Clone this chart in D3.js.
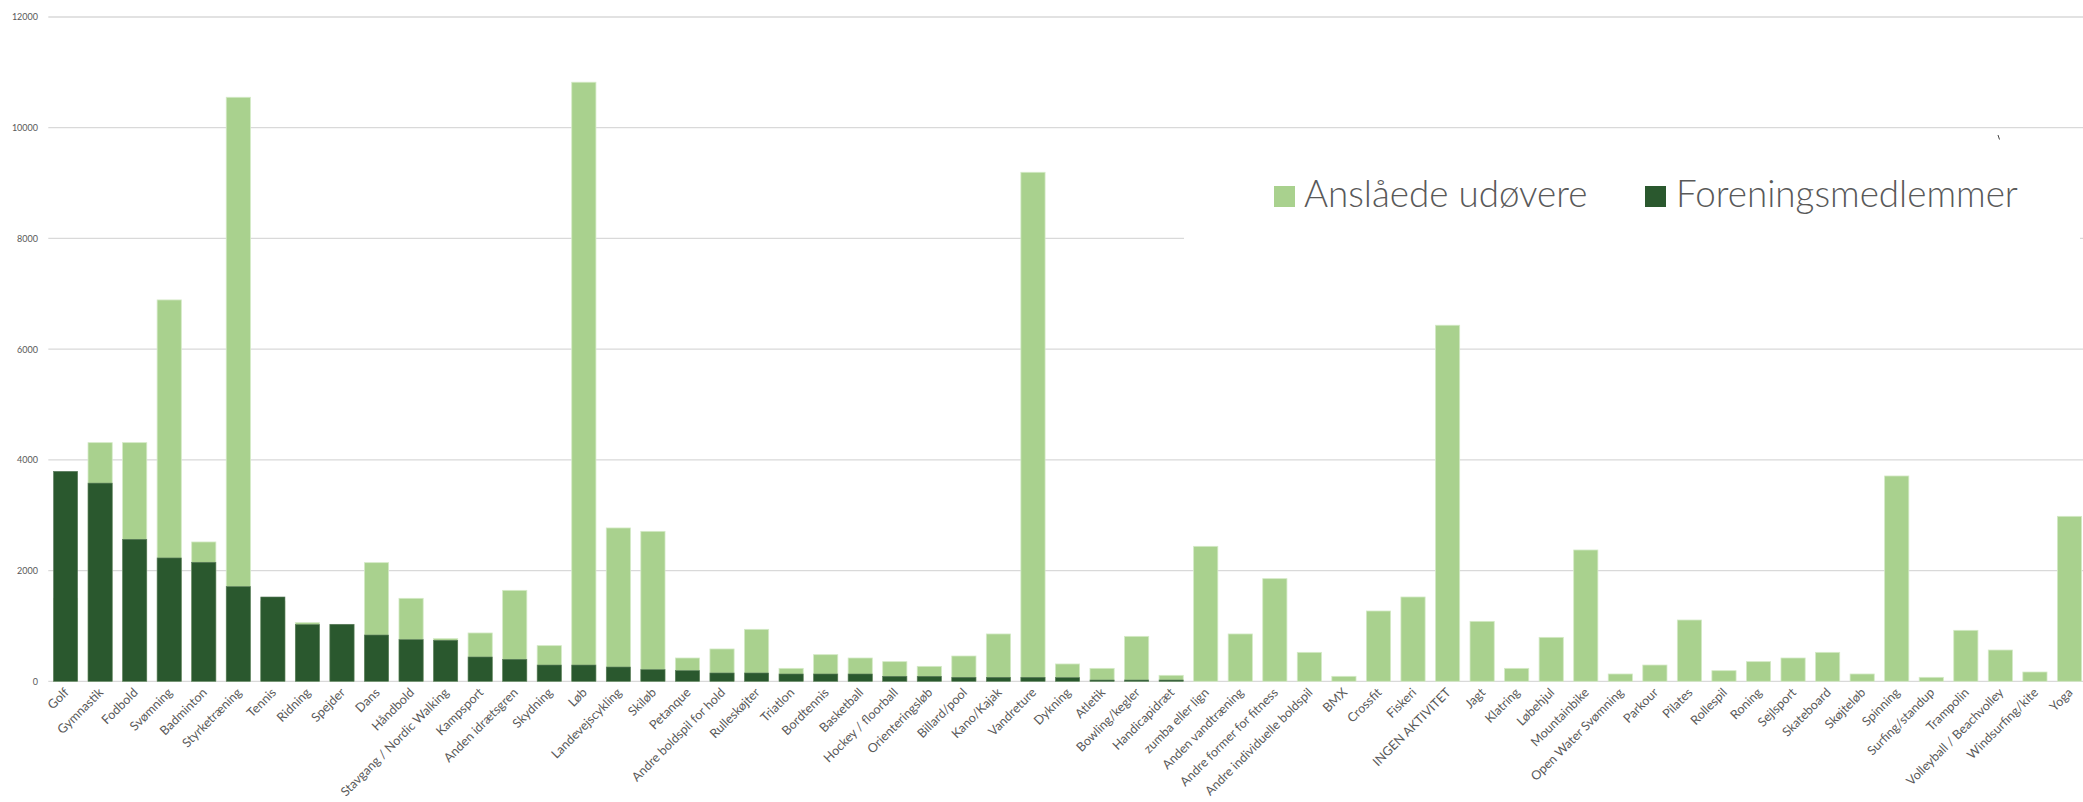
<!DOCTYPE html>
<html>
<head>
<meta charset="utf-8">
<script src="https://cdn.jsdelivr.net/npm/d3@7"></script>
<style>
  html, body { margin: 0; padding: 0; background: #fff; }
  svg { display: block; }
</style>
</head>
<body>
<svg id="chart" width="2083" height="802"></svg>
<script>
const categories = ["Golf","Gymnastik","Fodbold","Svømning","Badminton","Styrketræning","Tennis","Ridning","Spejder","Dans","Håndbold","Stavgang / Nordic Walking","Kampsport","Anden idrætsgren","Skydning","Løb","Landevejscykling","Skiløb","Petanque","Andre boldspil for hold","Rulleskøjter","Triatlon","Bordtennis","Basketball","Hockey / floorball","Orienteringsløb","Billard/pool","Kano/Kajak","Vandreture","Dykning","Atletik","Bowling/kegler","Handicapidræt","zumba eller lign","Anden vandtræning","Andre former for fitness","Andre individuelle boldspil","BMX","Crossfit","Fiskeri","INGEN AKTIVITET","Jagt","Klatring","Løbehjul","Mountainbike","Open Water Svømning","Parkour","Pilates","Rollespil","Roning","Sejlsport","Skateboard","Skøjteløb","Spinning","Surfing/standup","Trampolin","Volleyball / Beachvolley","Windsurfing/kite","Yoga"];

const anslaaedeUdoevere = [1500,4311,4311,6889,2517,10550,1450,1059,1020,2143,1499,770,873,1643,644,10822,2770,2709,421,584,939,234,481,421,355,270,457,855,9195,313,234,812,108,2438,855,1854,523,90,1270,1523,6432,1083,234,794,2372,132,294,1107,192,355,421,523,132,3709,72,921,565,168,2980];

const foreningsmedlemmer = [3793,3580,2565,2228,2150,1710,1523,1023,1030,836,752,740,439,397,294,294,258,210,192,150,150,132,132,132,90,90,72,72,72,66,23,23,23,0,0,0,0,0,0,0,0,0,0,0,0,0,0,0,0,0,0,0,0,0,0,0,0,0,0];

const yTicks = [0,2000,4000,6000,8000,10000,12000];
const seriesNames = ["Anslåede udøvere","Foreningsmedlemmer"];
const colors = ["#a9d18e","#2a582e"];

const svg = d3.select("#chart");
const W = 2083;
const x0 = 48.3, step = 34.55;
const x = d3.scaleBand().domain(categories).range([x0, x0 + step*categories.length]).paddingInner(0.3).paddingOuter(0.15);
const y = d3.scaleLinear().domain([0,12000]).range([681.3, 17]);

// gridlines
const grid = svg.append("g");
grid.selectAll("line").data(yTicks).join("line")
  .attr("x1", x0).attr("x2", W)
  .attr("y1", d => y(d)).attr("y2", d => y(d))
  .attr("stroke", "#d9d9d9").attr("stroke-width", 1.3);

// y axis labels
const yAxis = d3.axisLeft(y).tickValues(yTicks).tickSize(0).tickPadding(0).tickFormat(d3.format("d"));
const ya = svg.append("g").attr("transform", "translate(38,0)").call(yAxis);
ya.select(".domain").remove();
ya.selectAll("text").attr("fill", "#595959").style("font-family", "Lato, 'Open Sans', sans-serif").style("font-size", "9px");

// bars: estimated (behind), members (front)
svg.append("g").selectAll("rect").data(categories).join("rect")
  .attr("x", d => x(d)).attr("width", x.bandwidth())
  .attr("y", (d,i) => y(anslaaedeUdoevere[i]))
  .attr("height", (d,i) => y(0) - y(anslaaedeUdoevere[i]))
  .attr("fill", colors[0]).attr("stroke", "#d4eac6").attr("stroke-width", 0.8);

svg.append("g").selectAll("rect").data(categories).join("rect")
  .attr("x", d => x(d)).attr("width", x.bandwidth())
  .attr("y", (d,i) => y(foreningsmedlemmer[i]))
  .attr("height", (d,i) => y(0) - y(foreningsmedlemmer[i]))
  .attr("fill", colors[1]).attr("stroke", "#5d7d5f").attr("stroke-width", 0.6);

// x axis labels
const xAxis = d3.axisBottom(x).tickSize(0).tickPadding(0);
const xa = svg.append("g").attr("transform", `translate(0,${y(0)})`).call(xAxis);
xa.select(".domain").remove();
xa.selectAll("text")
  .attr("fill", "#595959")
  .style("font-family", "Lato, 'Open Sans', sans-serif")
  .style("font-size", "12.6px")
  .attr("text-anchor", "end")
  .attr("dy", null).attr("y", null)
  .attr("transform", "translate(4,12) rotate(-45)");

// legend panel (white background covering grid)
svg.append("rect").attr("x", 1184).attr("y", 133).attr("width", 896).attr("height", 170).attr("fill", "#fff");
svg.append("line").attr("x1", 1998).attr("y1", 135).attr("x2", 1999.5).attr("y2", 139.5).attr("stroke", "#444").attr("stroke-width", 1);

const legendItems = [{name: seriesNames[0], color: colors[0], sx: 1274, tx: 1304},
                     {name: seriesNames[1], color: colors[1], sx: 1645, tx: 1676}];
const lg = svg.append("g");
lg.selectAll("rect").data(legendItems).join("rect")
  .attr("x", d => d.sx).attr("y", 186).attr("width", 21).attr("height", 21).attr("fill", d => d.color);
lg.selectAll("text").data(legendItems).join("text")
  .attr("x", d => d.tx).attr("y", 206.5)
  .attr("fill", "#595959")
  .style("font-family", "Lato, sans-serif").style("font-weight", 300).style("font-size", "36.8px")
  .text(d => d.name);
</script>
</body>
</html>
